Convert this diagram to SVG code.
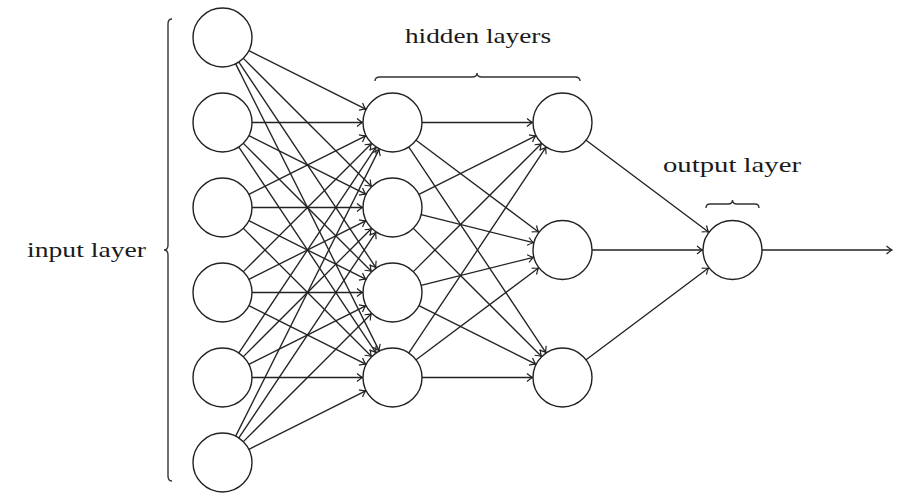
<svg xmlns="http://www.w3.org/2000/svg" width="921" height="504" viewBox="0 0 921 504">
<style>
.n{fill:#fff;stroke:#222;stroke-width:1.4}
.c line{stroke:#222;stroke-width:1.35;fill:none;marker-end:url(#ah)}
.b{fill:none;stroke:#333;stroke-width:1.4}
.t{font-family:"Liberation Serif","DejaVu Serif",serif;font-size:22px;fill:#1a1a1a;text-anchor:middle}
</style>
<defs>
<marker id="ah" markerUnits="userSpaceOnUse" orient="auto" overflow="visible" markerWidth="1" markerHeight="1" refX="0" refY="0">
<path d="M-5.5,-4 Q-2,-1 0,0 Q-2,1 -5.5,4" fill="none" stroke="#222" stroke-width="1.2"/>
</marker>
</defs>
<rect width="921" height="504" fill="#fff"/>
<g id="labels">
<text class="t" x="478" y="43" textLength="146" lengthAdjust="spacingAndGlyphs">hidden layers</text>
<text class="t" x="732" y="172" textLength="138" lengthAdjust="spacingAndGlyphs">output layer</text>
<text class="t" x="86.5" y="257" textLength="119" lengthAdjust="spacingAndGlyphs">input layer</text>
</g>
<g id="braces">
<path class="b" d="M172,19 Q168,19 168,24 L168,245 Q168,250 164,250 Q168,250 168,255 L168,476 Q168,481 172,481"/>
<path class="b" d="M375,81 Q375,77 380,77 L472,77 Q477,77 477,73 Q477,77 482,77 L575,77 Q580,77 580,81"/>
<path class="b" d="M706,208 Q706,204 710,204 L728,204 Q732.5,204 732.5,200 Q732.5,204 737,204 L755,204 Q759,204 759,208"/>
</g>
<g id="connectors" class="c">
<line x1="248.89" y1="50.69" x2="365.67" y2="109.08"/>
<line x1="243.36" y1="58.36" x2="371.29" y2="186.29"/>
<line x1="238.86" y1="62.05" x2="375.86" y2="267.54"/>
<line x1="235.69" y1="63.89" x2="379.08" y2="350.67"/>
<line x1="252" y1="122.5" x2="362.5" y2="122.5"/>
<line x1="248.89" y1="135.69" x2="365.67" y2="194.08"/>
<line x1="243.36" y1="143.36" x2="371.29" y2="271.29"/>
<line x1="238.86" y1="147.05" x2="375.86" y2="352.54"/>
<line x1="248.89" y1="194.31" x2="365.67" y2="135.92"/>
<line x1="252" y1="207.5" x2="362.5" y2="207.5"/>
<line x1="248.89" y1="220.69" x2="365.67" y2="279.08"/>
<line x1="243.36" y1="228.36" x2="371.29" y2="356.29"/>
<line x1="243.36" y1="271.64" x2="371.29" y2="143.71"/>
<line x1="248.89" y1="279.31" x2="365.67" y2="220.92"/>
<line x1="252" y1="292.5" x2="362.5" y2="292.5"/>
<line x1="248.89" y1="305.69" x2="365.67" y2="364.08"/>
<line x1="238.86" y1="352.95" x2="375.86" y2="147.46"/>
<line x1="243.36" y1="356.64" x2="371.29" y2="228.71"/>
<line x1="248.89" y1="364.31" x2="365.67" y2="305.92"/>
<line x1="252" y1="377.5" x2="362.5" y2="377.5"/>
<line x1="235.69" y1="436.11" x2="379.08" y2="149.33"/>
<line x1="238.86" y1="437.95" x2="375.86" y2="232.46"/>
<line x1="243.36" y1="441.64" x2="371.29" y2="313.71"/>
<line x1="248.89" y1="449.31" x2="365.67" y2="390.92"/>
<line x1="422" y1="122.5" x2="532.5" y2="122.5"/>
<line x1="416.1" y1="140.2" x2="538.5" y2="232"/>
<line x1="408.86" y1="147.05" x2="545.86" y2="352.54"/>
<line x1="418.89" y1="194.31" x2="535.67" y2="135.92"/>
<line x1="421.12" y1="214.66" x2="533.4" y2="242.72"/>
<line x1="413.36" y1="228.36" x2="541.29" y2="356.29"/>
<line x1="413.36" y1="271.64" x2="541.29" y2="143.71"/>
<line x1="421.12" y1="285.34" x2="533.4" y2="257.28"/>
<line x1="418.89" y1="305.69" x2="535.67" y2="364.08"/>
<line x1="408.86" y1="352.95" x2="545.86" y2="147.46"/>
<line x1="416.1" y1="359.8" x2="538.5" y2="268"/>
<line x1="422" y1="377.5" x2="532.5" y2="377.5"/>
<line x1="586.1" y1="140.2" x2="708.5" y2="232"/>
<line x1="592" y1="250" x2="702.5" y2="250"/>
<line x1="586.1" y1="359.8" x2="708.5" y2="268"/>
<line x1="762" y1="250" x2="892" y2="250"/>
</g>
<g id="input-layer">
<circle id="in1" class="n" cx="222.5" cy="37.5" r="29.5"/>
<circle id="in2" class="n" cx="222.5" cy="122.5" r="29.5"/>
<circle id="in3" class="n" cx="222.5" cy="207.5" r="29.5"/>
<circle id="in4" class="n" cx="222.5" cy="292.5" r="29.5"/>
<circle id="in5" class="n" cx="222.5" cy="377.5" r="29.5"/>
<circle id="in6" class="n" cx="222.5" cy="462.5" r="29.5"/>
</g>
<g id="hidden-layer-1">
<circle id="h1a" class="n" cx="392.5" cy="122.5" r="29.5"/>
<circle id="h1b" class="n" cx="392.5" cy="207.5" r="29.5"/>
<circle id="h1c" class="n" cx="392.5" cy="292.5" r="29.5"/>
<circle id="h1d" class="n" cx="392.5" cy="377.5" r="29.5"/>
</g>
<g id="hidden-layer-2">
<circle id="h2a" class="n" cx="562.5" cy="122.5" r="29.5"/>
<circle id="h2b" class="n" cx="562.5" cy="250" r="29.5"/>
<circle id="h2c" class="n" cx="562.5" cy="377.5" r="29.5"/>
</g>
<g id="output-layer">
<circle id="out" class="n" cx="732.5" cy="250" r="29.5"/>
</g>
</svg>
